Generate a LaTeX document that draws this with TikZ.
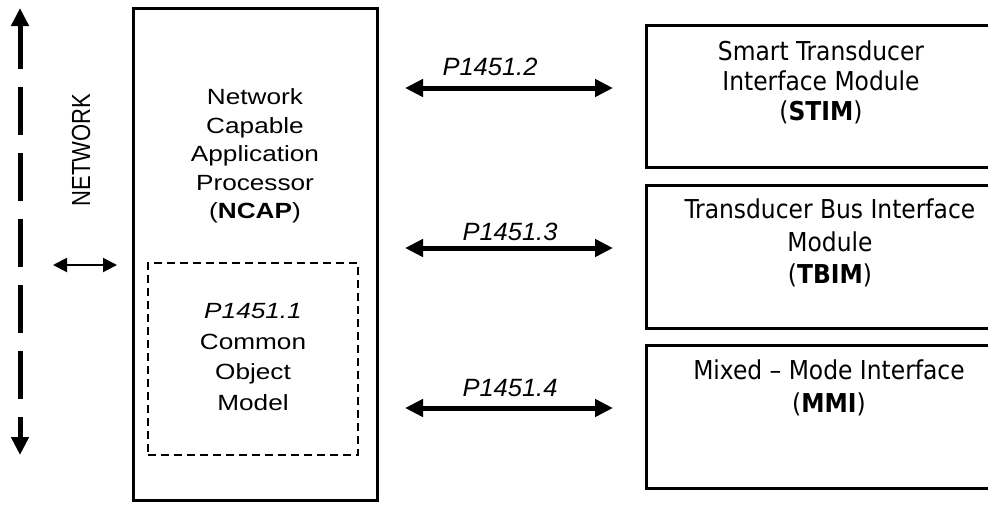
\documentclass[tikz,border=0pt]{standalone}
\usepackage{fontspec}
\setmainfont{Liberation Sans}
\newfontfamily\modfont{DejaVu Sans Condensed}
\usetikzlibrary{arrows.meta}

\tikzset{
  box/.style={draw, line width=3pt, inner sep=0pt},
  lbl/.style={align=center, xscale=1.19, font=\fontsize{22}{28.5}\selectfont},
  plbl/.style={xscale=1.02, font=\fontsize{25}{30}\selectfont\itshape},
  mlbl/.style={align=center, font=\modfont\fontsize{26}{31}\selectfont},
  bus/.style={{Triangle[length=18pt,width=17pt]}-{Triangle[length=18pt,width=17pt]}, line width=5pt},
}

\begin{document}
\begin{tikzpicture}[x=1pt,y=-1pt]
\useasboundingbox (0,0) rectangle (988,504);
\clip (0,0) rectangle (988,504);

% network backbone
\coordinate (nettop) at (20,8);
\coordinate (netbot) at (20,455);
\draw [bus, dash pattern=on 48pt off 18pt, dash phase=4pt] (nettop) -- (netbot);
\node [lbl, rotate=90] (net) at (81,150) {NETWORK};

% NCAP with the object model inside
\node [box, minimum width=244pt, minimum height=492pt] (ncap) at (255,254) {};
\node [lbl] (ncaptxt) at (255,156) {Network\\Capable\\Application\\Processor\\(\textbf{NCAP})};
\node [draw, line width=2pt, dash pattern=on 8pt off 5pt, minimum width=210pt, minimum height=192pt] (com) at (253,359) {};
\node [lbl, font=\fontsize{22}{30.5}\selectfont] (comtxt) at (253,357) {\textit{P1451.1}\\Common\\Object\\Model};

% NCAP <-> network
\coordinate (lanl) at (53,265);
\coordinate (lanr) at (117,265);
\draw [line width=2pt, {Triangle[length=14pt,width=14pt]}-{Triangle[length=14pt,width=14pt]}] (lanl) -- (lanr);

% modules, running off the right edge
\node [box, minimum width=420pt, minimum height=142pt, anchor=west] (stim) at (645,96) {};
\node [box, minimum width=420pt, minimum height=143pt, anchor=west] (tbim) at (645,256.5) {};
\node [box, minimum width=420pt, minimum height=143pt, anchor=west] (mmi) at (645,416.5) {};
\node [mlbl, font=\modfont\fontsize{26}{30}\selectfont] (stimtxt) at (821,82) {Smart Transducer\\Interface Module\\(\textbf{STIM})};
\node [mlbl, font=\modfont\fontsize{26}{32.5}\selectfont] (tbimtxt) at (830,243) {Transducer Bus Interface\\Module\\(\textbf{TBIM})};
\node [mlbl, font=\modfont\fontsize{26}{33}\selectfont] (mmitxt) at (829,388) {Mixed – Mode Interface\\(\textbf{MMI})};

% P1451 links
\coordinate (p2l) at (405,88);  \coordinate (p2r) at (613,88);
\coordinate (p3l) at (405,248); \coordinate (p3r) at (613,248);
\coordinate (p4l) at (405,408); \coordinate (p4r) at (613,408);
\draw [bus] (p2l) -- (p2r);
\draw [bus] (p3l) -- (p3r);
\draw [bus] (p4l) -- (p4r);
\node [plbl] (p2) at (490,67) {P1451.2};
\node [plbl] (p3) at (510,232) {P1451.3};
\node [plbl] (p4) at (510,388) {P1451.4};

\end{tikzpicture}
\end{document}
